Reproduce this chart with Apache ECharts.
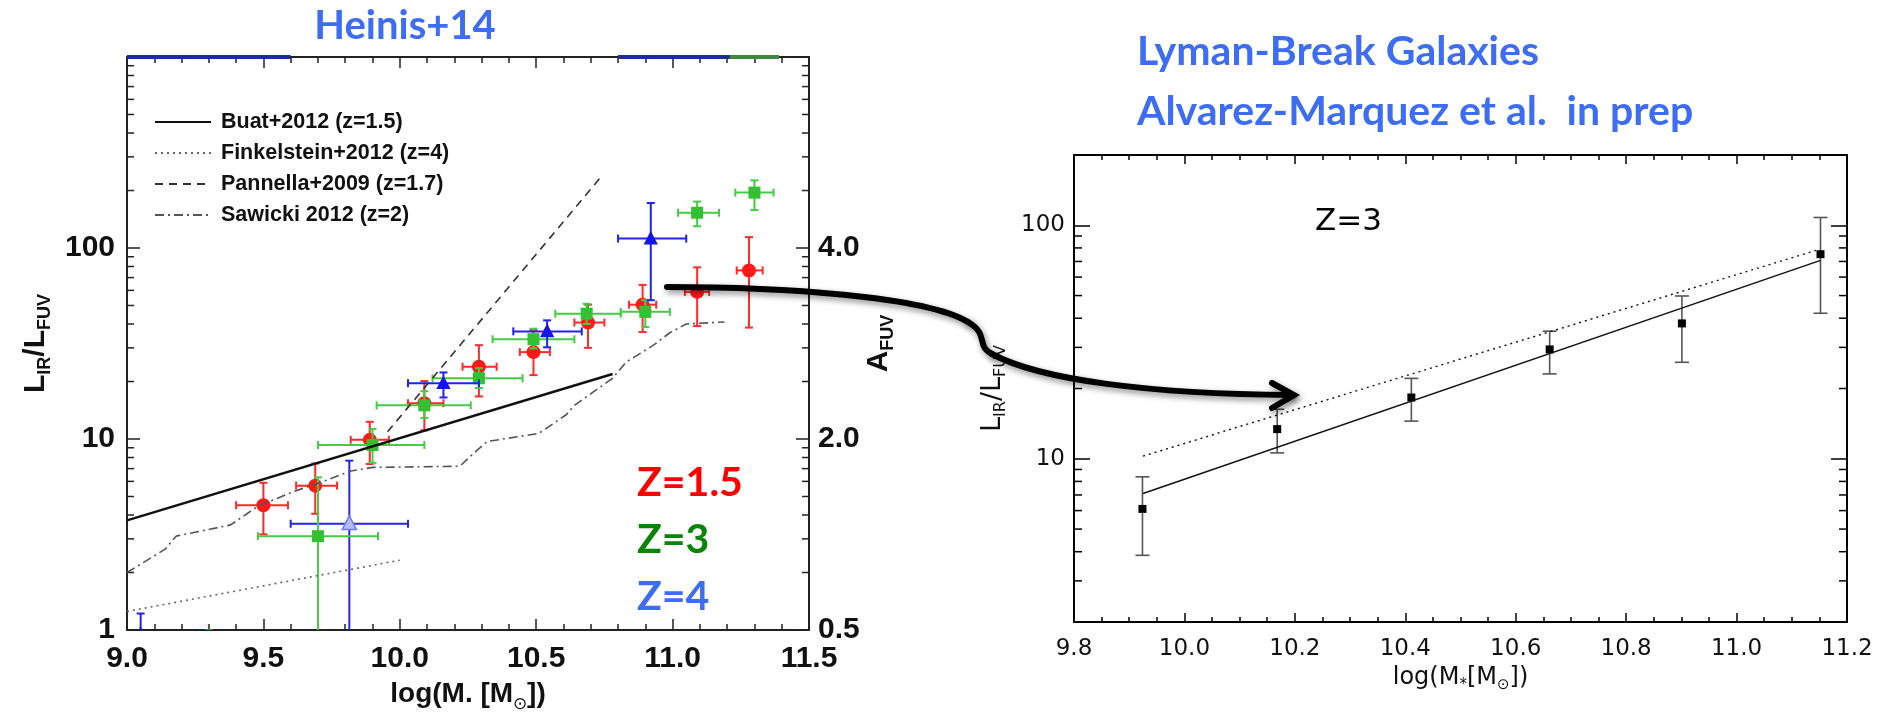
<!DOCTYPE html>
<html>
<head>
<meta charset="utf-8">
<script src="https://cdn.jsdelivr.net/npm/echarts@6/dist/echarts.min.js"></script>
<style>
html,body{margin:0;padding:0;background:#fff;}
#c{width:1894px;height:718px;}
</style>
</head>
<body>
<div id="c"></div>
<script>
// ---------------- DATA ----------------
// Left panel (Heinis+14): [x, y, xLow, xHigh, yLow, yHigh]
const z15Points = [
  [9.30, 0.6, 9.30, 9.30, 0.6, 1.0],
  [9.50, 4.5, 9.40, 9.59, 3.17, 5.9],
  [9.69, 5.7, 9.62, 9.77, 4.06, 7.44],
  [9.89, 9.9, 9.82, 9.96, 7.4, 12.3],
  [10.09, 15.4, 10.03, 10.16, 11.1, 20.1],
  [10.29, 23.9, 10.23, 10.355, 16.7, 31],
  [10.49, 28.5, 10.44, 10.55, 21.6, 37.2],
  [10.69, 40.7, 10.64, 10.75, 30, 50.5],
  [10.89, 50.5, 10.84, 10.94, 36.3, 64.1],
  [11.09, 58.9, 11.045, 11.134, 39, 79.2],
  [11.28, 76.3, 11.235, 11.33, 38.3, 114]
];
const z3Points = [
  [9.70, 3.1, 9.48, 9.92, 0.3, 6.3],
  [9.90, 9.3, 9.70, 10.09, 7.5, 11.3],
  [10.09, 15.0, 9.915, 10.26, 12.9, 17.8],
  [10.29, 20.8, 10.12, 10.45, 18.5, 23.5],
  [10.49, 33.3, 10.34, 10.64, 29.8, 37.8],
  [10.685, 45.3, 10.57, 10.81, 40, 51],
  [10.90, 46.3, 10.81, 10.99, 38.6, 53.3],
  [11.09, 153, 11.02, 11.17, 130, 175],
  [11.30, 195, 11.23, 11.37, 158, 226]
];
const z4Points = [
  [9.05, 0.95, 9.05, 9.05, 0.6, 1.22],
  [10.16, 19.6, 10.03, 10.29, 16.5, 22.3],
  [10.54, 36.6, 10.416, 10.667, 30.2, 41.8],
  [10.92, 112, 10.80, 11.05, 53.3, 172]
];
const z4FaintPoints = [
  [9.815, 3.6, 9.60, 10.03, 0.3, 7.7]
];
const buatLine = [[9.0, 3.75], [10.78, 21.9]];
const finkelsteinLine = [[9.0, 1.25], [10.0, 2.32]];
const pannellaLine = [[9.955, 10.9], [10.74, 238]];
const sawickiX = [9.00, 9.14, 9.18, 9.38, 9.48, 9.61, 9.72, 9.82, 9.90, 10.22, 10.27, 10.32, 10.51, 10.61, 10.64, 10.78, 10.83, 10.93, 10.99, 11.05, 11.19];
const sawickiY = [2.0, 2.65, 3.1, 3.55, 4.45, 5.3, 6.0, 6.8, 7.1, 7.2, 8.4, 9.7, 10.7, 13.4, 15.0, 20.8, 25.3, 31, 36, 40, 41];
const topBlueSegA = [[9.0, 1000], [9.6, 1000]];
const topBlueSegB = [[10.80, 1000], [11.21, 1000]];
const topGreenSeg = [[11.21, 1000], [11.39, 1000]];

// Right panel (Alvarez-Marquez, z=3)
const lbgX = [9.924, 10.168, 10.411, 10.6615, 10.901, 11.152];
const lbgY = [6.1, 13.4, 18.3, 29.4, 38.0, 75.2];
const lbgYLow = [3.86, 10.6, 14.5, 23.1, 25.9, 42.0];
const lbgYHigh = [8.37, 16.3, 22.1, 35.2, 49.8, 108];
const lbgFitSolid = [[9.925, 7.1], [11.152, 70.8]];
const lbgFitDotted = [[9.925, 10.27], [11.144, 78.1]];

// Tick labels
const leftYLabels = {0: '1', 1: '10', 2: '100'};
const aFuvLabels = {0: '0.5', 1: '2.0', 2: '4.0'};
const rightYLabels = {1: '10', 2: '100'};
const leftMinorTickVals = [2,3,4,5,6,7,8,9,20,30,40,50,60,70,80,90,200,300,400,500,600,700,800,900];
const rightMinorTickVals = [3,4,5,6,7,8,9,20,30,40,50,60,70,80,90];

// ---------------- CHART ----------------
const LX = [9.0, 11.5], LY = [1, 1000];
const RX = [9.8, 11.2], RY = [2, 200];
const HF = 'Liberation Sans';
const DF = 'DejaVu Sans';
const BLUE_T = '#3d6df5';

function decade(v) {
  const l = Math.log10(v);
  const r = Math.round(l);
  return Math.abs(l - r) < 1e-6 ? r : null;
}
function fmtFrom(map) {
  return function (v) { const d = decade(v); return (d !== null && map[d] !== undefined) ? map[d] : ''; };
}

function errRenderer(opt) {
  return function (params, api) {
    const x = api.value(0), y = api.value(1), xl = api.value(2), xh = api.value(3), yl = api.value(4), yh = api.value(5);
    const c = api.coord([x, y]);
    const st = {stroke: opt.bar, lineWidth: opt.lw, fill: null};
    const ch = [];
    const cw = opt.cap;
    if (xl !== xh) {
      const a = api.coord([xl, y]), b = api.coord([xh, y]);
      ch.push({type: 'line', shape: {x1: a[0], y1: a[1], x2: b[0], y2: b[1]}, style: st});
      ch.push({type: 'line', shape: {x1: a[0], y1: a[1] - cw, x2: a[0], y2: a[1] + cw}, style: st});
      ch.push({type: 'line', shape: {x1: b[0], y1: b[1] - cw, x2: b[0], y2: b[1] + cw}, style: st});
    }
    if (yl !== yh) {
      const a = api.coord([x, yl]), b = api.coord([x, yh]);
      ch.push({type: 'line', shape: {x1: a[0], y1: a[1], x2: b[0], y2: b[1]}, style: st});
      ch.push({type: 'line', shape: {x1: a[0] - cw, y1: a[1], x2: a[0] + cw, y2: a[1]}, style: st});
      ch.push({type: 'line', shape: {x1: b[0] - cw, y1: b[1], x2: b[0] + cw, y2: b[1]}, style: st});
    }
    const s = opt.size;
    const ms = {fill: opt.fill, stroke: opt.stroke || null, lineWidth: opt.stroke ? 1.5 : 0};
    if (opt.shape === 'circle') {
      ch.push({type: 'circle', shape: {cx: c[0], cy: c[1], r: s / 2}, style: ms});
    } else if (opt.shape === 'square') {
      ch.push({type: 'rect', shape: {x: c[0] - s / 2, y: c[1] - s / 2, width: s, height: s}, style: ms});
    } else {
      ch.push({type: 'polygon', shape: {points: [[c[0], c[1] - s * 0.6], [c[0] - s * 0.55, c[1] + s * 0.45], [c[0] + s * 0.55, c[1] + s * 0.45]]}, style: ms});
    }
    return {type: 'group', children: ch};
  };
}

function minorTickRenderer(len, color) {
  return function (params, api) {
    const cs = params.coordSys;
    const p = api.coord([api.value(0), api.value(1)]);
    const y = p[1];
    const st = {stroke: color, lineWidth: 1.5};
    return {type: 'group', children: [
      {type: 'line', shape: {x1: cs.x, y1: y, x2: cs.x + len, y2: y}, style: st},
      {type: 'line', shape: {x1: cs.x + cs.width - len, y1: y, x2: cs.x + cs.width, y2: y}, style: st}
    ]};
  };
}

function xAxisCfg(grid, range, interval, split, pos, labelStyle, extra) {
  const color = grid === 0 ? '#222' : '#000';
  return Object.assign({
    gridIndex: grid, type: 'value', min: range[0], max: range[1], interval: interval, position: pos,
    axisLine: {show: true, onZero: false, lineStyle: {color: color, width: 2}},
    axisTick: {show: true, inside: true, length: grid === 0 ? 11 : 9, lineStyle: {color: color, width: 1.5}},
    minorTick: {show: true, splitNumber: split, length: grid === 0 ? 6 : 5, lineStyle: {color: color, width: 1.5}},
    splitLine: {show: false}, minorSplitLine: {show: false},
    axisLabel: pos === 'bottom' ? Object.assign({formatter: v => v.toFixed(1)}, labelStyle) : {show: false}
  }, extra || {});
}

const leftLabel = {fontFamily: HF, fontWeight: 'bold', fontSize: 30, color: '#111'};
const rightLabel = {fontFamily: DF, fontSize: 23, color: '#111'};

const option = {
  animation: false,
  backgroundColor: '#fff',
  grid: [
    {left: 127, top: 57, width: 682, height: 576},
    {left: 1074, top: 155, width: 773, height: 467}
  ],
  legend: {
    left: 149, top: 106, orient: 'vertical', itemWidth: 56, itemHeight: 18, itemGap: 9,
    data: ['Buat+2012 (z=1.5)', 'Finkelstein+2012 (z=4)', 'Pannella+2009 (z=1.7)', 'Sawicki 2012 (z=2)'],
    itemStyle: {opacity: 0},
    textStyle: {fontFamily: HF, fontWeight: 'bold', fontSize: 21.5, color: '#111', padding: [0, 0, 0, 5]},
    selectedMode: false
  },
  xAxis: [
    xAxisCfg(0, LX, 0.5, 5, 'bottom', Object.assign({margin: 14}, leftLabel), {
      name: '{m|log(M. [M}{s|⊙}{m|])}', nameLocation: 'middle', nameGap: 50,
      nameTextStyle: {rich: {
        m: {fontFamily: HF, fontWeight: 'bold', fontSize: 28, color: '#111', lineHeight: 28, verticalAlign: 'top'},
        s: {fontFamily: HF, fontSize: 17, color: '#111', lineHeight: 17, verticalAlign: 'top', padding: [16, 0, 0, 0]}
      }}
    }),
    xAxisCfg(0, LX, 0.5, 5, 'top'),
    xAxisCfg(1, RX, 0.2, 4, 'bottom', Object.assign({margin: 16}, rightLabel), {
      name: '{m|log(M}{s|*}{m|[M}{s|⊙}{m|])}', nameLocation: 'middle', nameGap: 40,
      nameTextStyle: {rich: {
        m: {fontFamily: DF, fontSize: 24, color: '#111', lineHeight: 24, verticalAlign: 'top'},
        s: {fontFamily: DF, fontSize: 15, color: '#111', lineHeight: 15, verticalAlign: 'top', padding: [12, 0, 0, 0]}
      }}
    }),
    xAxisCfg(1, RX, 0.2, 4, 'top')
  ],
  yAxis: [
    {gridIndex: 0, type: 'log', logBase: 10, min: LY[0], max: LY[1], position: 'left',
     axisLine: {show: true, onZero: false, lineStyle: {color: '#222', width: 2}},
     axisTick: {show: true, inside: true, length: 13, lineStyle: {color: '#222', width: 1.5}},
     splitLine: {show: false}, minorTick: {show: false},
     axisLabel: Object.assign({margin: 12, formatter: fmtFrom(leftYLabels)}, leftLabel),
     name: '{m|L}{s|IR}{m|/L}{s|FUV}', nameLocation: 'middle', nameRotate: 90, nameGap: 76,
     nameTextStyle: {rich: {
       m: {fontFamily: HF, fontWeight: 'bold', fontSize: 30, color: '#111', lineHeight: 30, verticalAlign: 'top'},
       s: {fontFamily: HF, fontWeight: 'bold', fontSize: 18, color: '#111', lineHeight: 18, verticalAlign: 'top', padding: [15, 0, 0, 0]}
     }}},
    {gridIndex: 0, type: 'log', logBase: 10, min: LY[0], max: LY[1], position: 'right',
     axisLine: {show: true, onZero: false, lineStyle: {color: '#222', width: 2}},
     axisTick: {show: true, inside: true, length: 13, lineStyle: {color: '#222', width: 1.5}},
     splitLine: {show: false}, minorTick: {show: false},
     axisLabel: Object.assign({margin: 9, formatter: fmtFrom(aFuvLabels)}, leftLabel),
     name: '{m|A}{s|FUV}', nameLocation: 'middle', nameRotate: 90, nameGap: 26,
     nameTextStyle: {rich: {
       m: {fontFamily: HF, fontWeight: 'bold', fontSize: 30, color: '#111', lineHeight: 30, verticalAlign: 'top'},
       s: {fontFamily: HF, fontWeight: 'bold', fontSize: 18, color: '#111', lineHeight: 18, verticalAlign: 'top', padding: [15, 0, 0, 0]}
     }}},
    {gridIndex: 1, type: 'log', logBase: 10, min: RY[0], max: RY[1], position: 'left',
     axisLine: {show: true, onZero: false, lineStyle: {color: '#000', width: 2}},
     axisTick: {show: true, inside: true, length: 16, lineStyle: {color: '#000', width: 1.5}},
     splitLine: {show: false}, minorTick: {show: false},
     axisLabel: Object.assign({margin: 9, formatter: fmtFrom(rightYLabels)}, rightLabel),
     name: '{m|L}{s|IR}{m|/L}{s|FUV}', nameLocation: 'middle', nameRotate: 90, nameGap: 68,
     nameTextStyle: {rich: {
       m: {fontFamily: DF, fontSize: 27, color: '#111', lineHeight: 27, verticalAlign: 'top'},
       s: {fontFamily: DF, fontSize: 16, color: '#111', lineHeight: 16, verticalAlign: 'top', padding: [14, 0, 0, 0]}
     }}},
    {gridIndex: 1, type: 'log', logBase: 10, min: RY[0], max: RY[1], position: 'right',
     axisLine: {show: true, onZero: false, lineStyle: {color: '#000', width: 2}},
     axisTick: {show: true, inside: true, length: 16, lineStyle: {color: '#000', width: 1.5}},
     splitLine: {show: false}, minorTick: {show: false},
     axisLabel: {show: false}}
  ],
  series: [
    // minor log ticks
    {type: 'custom', xAxisIndex: 0, yAxisIndex: 0, silent: true, renderItem: minorTickRenderer(7, '#222'),
     data: leftMinorTickVals.map(v => [LX[0], v])},
    {type: 'custom', xAxisIndex: 2, yAxisIndex: 2, silent: true, renderItem: minorTickRenderer(8, '#000'),
     data: rightMinorTickVals.map(v => [RX[0], v])},
    // left panel model lines
    {name: 'Buat+2012 (z=1.5)', type: 'line', xAxisIndex: 0, yAxisIndex: 0, symbol: 'none', data: buatLine,
     color: '#111', lineStyle: {color: '#111', width: 2.5, type: 'solid'}},
    {name: 'Finkelstein+2012 (z=4)', type: 'line', xAxisIndex: 0, yAxisIndex: 0, symbol: 'none', data: finkelsteinLine,
     color: '#666', lineStyle: {color: '#666', width: 1.6, type: [2, 4]}},
    {name: 'Pannella+2009 (z=1.7)', type: 'line', xAxisIndex: 0, yAxisIndex: 0, symbol: 'none', data: pannellaLine,
     color: '#333', lineStyle: {color: '#333', width: 1.6, type: [8, 6]}},
    {name: 'Sawicki 2012 (z=2)', type: 'line', xAxisIndex: 0, yAxisIndex: 0, symbol: 'none',
     data: sawickiX.map((x, i) => [x, sawickiY[i]]),
     color: '#555', lineStyle: {color: '#555', width: 1.6, type: [9, 4, 2, 4]}},
    {type: 'line', xAxisIndex: 0, yAxisIndex: 0, symbol: 'none', data: topBlueSegA, lineStyle: {color: '#1d2f8f', width: 4}},
    {type: 'line', xAxisIndex: 0, yAxisIndex: 0, symbol: 'none', data: topBlueSegB, lineStyle: {color: '#1d2f8f', width: 4}},
    {type: 'line', xAxisIndex: 0, yAxisIndex: 0, symbol: 'none', data: topGreenSeg, lineStyle: {color: '#3d8a3d', width: 4}},
    // left panel data points
    {type: 'custom', xAxisIndex: 0, yAxisIndex: 0, clip: true, data: z4FaintPoints,
     renderItem: errRenderer({bar: '#2525ee', lw: 2, cap: 4, shape: 'triangle', size: 13, fill: '#b4bcf2', stroke: '#6f7eee'})},
    {type: 'custom', xAxisIndex: 0, yAxisIndex: 0, clip: true, data: z15Points,
     renderItem: errRenderer({bar: '#ff2a2a', lw: 2, cap: 4, shape: 'circle', size: 14, fill: '#ff1a1a'})},
    {type: 'custom', xAxisIndex: 0, yAxisIndex: 0, clip: true, data: z3Points,
     renderItem: errRenderer({bar: '#45cc45', lw: 2, cap: 4, shape: 'square', size: 12, fill: '#33c033'})},
    {type: 'custom', xAxisIndex: 0, yAxisIndex: 0, clip: true, data: z4Points,
     renderItem: errRenderer({bar: '#2222ee', lw: 2, cap: 4, shape: 'triangle', size: 13, fill: '#1414e6'})},
    // right panel
    {type: 'line', xAxisIndex: 2, yAxisIndex: 2, symbol: 'none', data: lbgFitDotted,
     lineStyle: {color: '#111', width: 1.4, type: [2, 4]}},
    {type: 'line', xAxisIndex: 2, yAxisIndex: 2, symbol: 'none', data: lbgFitSolid,
     lineStyle: {color: '#111', width: 1.4}},
    {type: 'custom', xAxisIndex: 2, yAxisIndex: 2, clip: true,
     data: lbgX.map((x, i) => [x, lbgY[i], x, x, lbgYLow[i], lbgYHigh[i]]),
     renderItem: errRenderer({bar: '#555', lw: 1.6, cap: 7, shape: 'square', size: 8, fill: '#000'})}
  ],
  graphic: [
    {type: 'text', z: 100, style: {text: 'Heinis+14', x: 405, y: 26, align: 'center', verticalAlign: 'middle', fill: BLUE_T, font: 'bold 40px Lato'}},
    {type: 'text', z: 100, style: {text: 'Lyman-Break Galaxies', x: 1137, y: 52, align: 'left', verticalAlign: 'middle', fill: BLUE_T, font: 'bold 41px Lato'}},
    {type: 'text', z: 100, style: {text: 'Alvarez-Marquez et al.  in prep', x: 1137, y: 112, align: 'left', verticalAlign: 'middle', fill: BLUE_T, font: 'bold 41px Lato'}},
    {type: 'text', z: 100, style: {text: 'Z=1.5', x: 637, y: 483, align: 'left', verticalAlign: 'middle', fill: '#ff0000', font: 'bold 41px Lato'}},
    {type: 'text', z: 100, style: {text: 'Z=3', x: 637, y: 540, align: 'left', verticalAlign: 'middle', fill: '#0a840a', font: 'bold 41px Lato'}},
    {type: 'text', z: 100, style: {text: 'Z=4', x: 637, y: 597, align: 'left', verticalAlign: 'middle', fill: BLUE_T, font: 'bold 41px Lato'}},
    {type: 'text', z: 100, style: {text: 'Z=3', x: 1315, y: 222, align: 'left', verticalAlign: 'middle', fill: '#000', font: '31px "DejaVu Sans"'}},
    // arrow
    {type: 'bezierCurve', z: 100, shape: {x1: 667, y1: 287, cpx1: 780, cpy1: 287, cpx2: 925, cpy2: 296, x2: 968, y2: 322},
     style: {stroke: '#000', lineWidth: 6, fill: null, lineCap: 'round', shadowBlur: 6, shadowColor: 'rgba(0,0,0,0.45)', shadowOffsetX: 2, shadowOffsetY: 3}},
    {type: 'bezierCurve', z: 100, shape: {x1: 968, y1: 322, cpx1: 990, cpy1: 335, cpx2: 975, cpy2: 345, x2: 992, y2: 354},
     style: {stroke: '#000', lineWidth: 6, fill: null, lineCap: 'round', shadowBlur: 6, shadowColor: 'rgba(0,0,0,0.45)', shadowOffsetX: 2, shadowOffsetY: 3}},
    {type: 'bezierCurve', z: 100, shape: {x1: 992, y1: 354, cpx1: 1040, cpy1: 380, cpx2: 1150, cpy2: 394, x2: 1292, y2: 395},
     style: {stroke: '#000', lineWidth: 6, fill: null, lineCap: 'round', shadowBlur: 6, shadowColor: 'rgba(0,0,0,0.45)', shadowOffsetX: 2, shadowOffsetY: 3}},
    {type: 'polyline', z: 100, shape: {points: [[1272, 383], [1294, 395], [1272, 408]]},
     style: {stroke: '#000', lineWidth: 6, fill: null, lineCap: 'round', lineJoin: 'miter', shadowBlur: 6, shadowColor: 'rgba(0,0,0,0.45)', shadowOffsetX: 2, shadowOffsetY: 3}}
  ]
};

const chart = echarts.init(document.getElementById('c'), null, {renderer: 'canvas'});
chart.setOption(option);
</script>
</body>
</html>
